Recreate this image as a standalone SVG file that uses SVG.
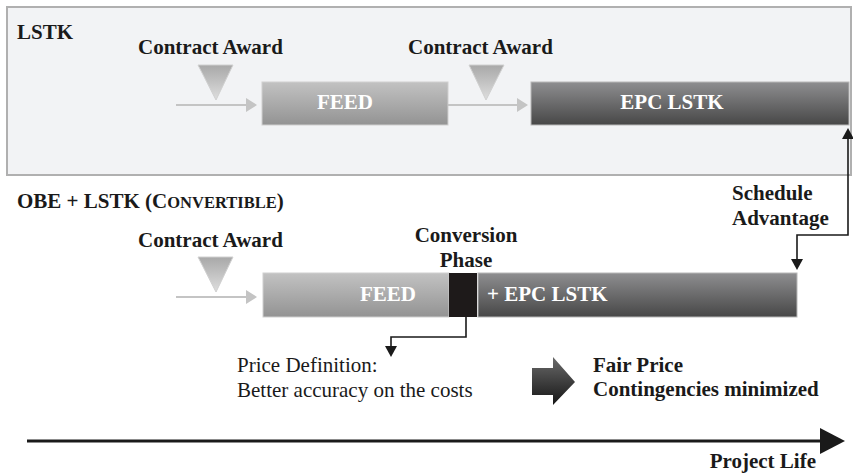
<svg xmlns="http://www.w3.org/2000/svg" width="853" height="473" viewBox="0 0 853 473" font-family="'Liberation Serif', 'Times New Roman', Times, 'DejaVu Serif', serif">
<defs>
<style>
text{font-family:'Liberation Serif','Times New Roman',Times,'DejaVu Serif',serif;font-size:21px;fill:#1a1a1a}
.b{font-weight:bold}
.w{fill:#ffffff;font-weight:bold}
.gl{stroke:#c4c4c4;stroke-width:2;fill:none}
.gh{fill:#c4c4c4}
.k{stroke:#1a1a1a;stroke-width:1.6;fill:none}
.kh{fill:#1a1a1a}
</style>
<linearGradient id="tri" x1="0" y1="0" x2="0" y2="1">
<stop offset="0" stop-color="#a8a8a8"/>
<stop offset="1" stop-color="#dedede"/>
</linearGradient>
<linearGradient id="feed" x1="0" y1="0" x2="0" y2="1">
<stop offset="0" stop-color="#c2c2c2"/>
<stop offset="1" stop-color="#939393"/>
</linearGradient>
<linearGradient id="epc" x1="0" y1="0" x2="0" y2="1">
<stop offset="0" stop-color="#8e8e90"/>
<stop offset="1" stop-color="#474747"/>
</linearGradient>
<linearGradient id="big" x1="0" y1="0" x2="0" y2="1">
<stop offset="0" stop-color="#6a6a6a"/>
<stop offset="1" stop-color="#151515"/>
</linearGradient>
</defs>
<rect width="853" height="473" fill="#ffffff"/>

<g id="lstk-panel">
<rect x="7" y="7" width="844" height="168" fill="#f2f3f5" stroke="#b0b0b0" stroke-width="2"/>
<text x="17" y="39" class="b">LSTK</text>
</g>

<g id="award1">
<text x="138" y="54" class="b">Contract Award</text>
<polygon points="198,65 233,65 216,100" fill="url(#tri)" stroke="#d0d0d0" stroke-width="1"/>
</g>
<g id="feed1">
<rect x="262" y="82" width="186" height="43" fill="url(#feed)" stroke="#cfcfcf" stroke-width="1"/>
<text x="345" y="109" class="w" text-anchor="middle">FEED</text>
</g>
<g id="award2">
<text x="408" y="54" class="b">Contract Award</text>
<polygon points="469,65 504,65 486,100" fill="url(#tri)" stroke="#d0d0d0" stroke-width="1"/>
</g>
<g id="epc1">
<rect x="531" y="82" width="318" height="43" fill="url(#epc)" stroke="#b8b8b8" stroke-width="1"/>
<text x="672" y="109" class="w" text-anchor="middle">EPC LSTK</text>
</g>

<g id="obe-title">
<text x="17" y="208" class="b">OBE + LSTK (C<tspan font-size="16.5">ONVERTIBLE</tspan>)</text>
</g>
<g id="award3">
<text x="138" y="247" class="b">Contract Award</text>
<polygon points="198,257 233,257 216,292" fill="url(#tri)" stroke="#d0d0d0" stroke-width="1"/>
</g>
<g id="feed2">
<rect x="263" y="273" width="186" height="44" fill="url(#feed)" stroke="#cfcfcf" stroke-width="1"/>
<text x="388" y="301" class="w" text-anchor="middle">FEED</text>
</g>
<g id="conversion">
<rect x="449" y="273" width="28" height="44" fill="#1e1a1a"/>
<text x="466" y="242" class="b" text-anchor="middle">Conversion</text>
<text x="466" y="267" class="b" text-anchor="middle">Phase</text>
</g>
<g id="epc2">
<rect x="478" y="273" width="319" height="44" fill="url(#epc)" stroke="#b8b8b8" stroke-width="1"/>
<text x="487" y="301" class="w">+ EPC LSTK</text>
</g>

<g id="schedule">
<text x="732" y="200" class="b">Schedule</text>
<text x="732" y="225" class="b">Advantage</text>
</g>
<g id="price">
<text x="237" y="372">Price Definition:</text>
<text x="237" y="397">Better accuracy on the costs</text>
</g>
<g id="result">
<polygon points="532,368 553,368 553,357 575,382 553,405 553,395 532,395" fill="url(#big)"/>
<text x="593" y="372" class="b">Fair Price</text>
<text x="593" y="396" class="b">Contingencies minimized</text>
</g>
<g id="timeline">
<line x1="27" y1="441" x2="822" y2="441" stroke="#1a1a1a" stroke-width="3"/>
<polygon points="820,428 845,441 820,454" fill="#1a1a1a"/>
<text x="816" y="468" class="b" text-anchor="end">Project Life</text>
</g>

<g id="connectors">
<line x1="176" y1="105" x2="247" y2="105" class="gl"/>
<polygon points="246,98 257,105 246,112" class="gh"/>
<line x1="448" y1="105" x2="518" y2="105" class="gl"/>
<polygon points="517,98 528,105 517,112" class="gh"/>
<line x1="176" y1="297" x2="247" y2="297" class="gl"/>
<polygon points="246,290 257,297 246,304" class="gh"/>
<polyline points="797,260 797,235 848,235 848,138" class="k"/>
<polygon points="842,139 848,128 854,139" class="kh"/>
<polygon points="791,259 797,270 803,259" class="kh"/>
<polyline points="466,317 466,337 391,337 391,347" class="k"/>
<polygon points="385,346 391,357 397,346" class="kh"/>
</g>
</svg>
